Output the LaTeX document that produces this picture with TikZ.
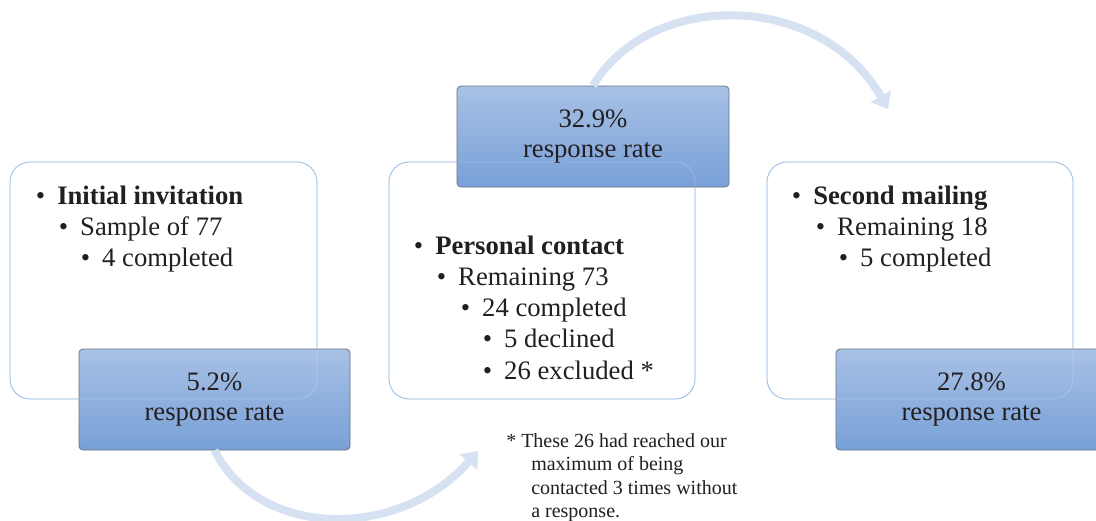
\documentclass[tikz,border=0pt]{standalone}
\usepackage{fontspec}
\setmainfont{Liberation Serif}
\usetikzlibrary{arrows.meta,fit}
\definecolor{panelblue}{RGB}{125,172,225}
\definecolor{ratetop}{RGB}{168,193,230}
\definecolor{ratebot}{RGB}{120,160,215}
\definecolor{rateedge}{RGB}{105,115,130}
\definecolor{inktext}{RGB}{35,31,32}
\definecolor{arrowblue}{RGB}{214,225,242}
\newcommand\bodyfnt{\fontsize{20}{24}\selectfont}
\newcommand\notefnt{\fontsize{15}{17.6}\selectfont}
\newcommand\bul{\llap{\textbullet\hspace{9pt}}}
\tikzset{
  panel/.style={draw=panelblue, line width=0.6pt, rounded corners=15pt, fill=white, inner sep=0pt},
  panelghost/.style={draw=white, opacity=0.22, line width=0.6pt, rounded corners=15pt, inner sep=0pt},
  rate/.style={draw=rateedge, line width=0.6pt, rounded corners=3pt, top color=ratetop, bottom color=ratebot, inner sep=0pt},
  ratetext/.style={align=center, text=inktext, font=\fontsize{20}{22.5}\selectfont, inner sep=0pt},
  item/.style={anchor=base west, inner sep=0pt, text=inktext, font=\bodyfnt},
  note/.style={anchor=base west, inner sep=0pt, text=inktext, font=\notefnt},
  bigarrow/.style={draw=arrowblue, line width=6pt, -{Triangle[width=17pt,length=11pt]}}
}
\begin{document}
\begin{tikzpicture}[x=0.75pt,y=-0.75pt]
\useasboundingbox (0,0) rectangle (1096,521);
\fill[white] (0,0) rectangle (1096,521);

% white panels
\node[panel, fit={(10,162) (317,399)}] (p1) {};
\node[panel, fit={(389,162) (695,399)}] (p2) {};
\node[panel, fit={(767,162) (1073,399)}] (p3) {};

% rate boxes
\node[rate, fit={(79,349) (350,450)}] (r1) {};
\node[rate, fit={(457,86) (729,187)}] (r2) {};
\node[rate, fit={(836,349) (1107,450)}] (r3) {};

% faint panel outlines showing through rate boxes
\node[panelghost, fit={(10,162) (317,399)}] (g1) {};
\node[panelghost, fit={(389,162) (695,399)}] (g2) {};
\node[panelghost, fit={(767,162) (1073,399)}] (g3) {};

% arrows
\coordinate (a1e) at (478,451);
\coordinate (a2e) at (888,109);
\draw[bigarrow] (r1.south) .. controls (260,540) and (400,540) .. (a1e);
\draw[bigarrow] (r2.north) .. controls (650,-10) and (820,-10) .. (a2e);

% rate texts
\node[ratetext] (t1) at (214.5,399) {5.2\%\\response rate};
\node[ratetext] (t2) at (593,136) {32.9\%\\response rate};
\node[ratetext] (t3) at (971.5,399) {27.8\%\\response rate};

% left panel text
\node[item] (l1) at (57,204) {\bul\textbf{Initial invitation}};
\node[item] (l2) at (80,235) {\bul Sample of 77};
\node[item] (l3) at (102,266) {\bul 4 completed};

% middle panel text
\node[item] (m1) at (435,254) {\bul\textbf{Personal contact}};
\node[item] (m2) at (458,285.3) {\bul Remaining 73};
\node[item] (m3) at (482,316.6) {\bul 24 completed};
\node[item] (m4) at (504,347.9) {\bul 5 declined};
\node[item] (m5) at (504,379.2) {\bul 26 excluded *};

% right panel text
\node[item] (s1) at (813,204) {\bul\textbf{Second mailing}};
\node[item] (s2) at (837,235) {\bul Remaining 18};
\node[item] (s3) at (860,266) {\bul 5 completed};

% footnote
\node[note] (f1) at (506,447) {* These 26 had reached our};
\node[note] (f2) at (531,470.5) {maximum of being};
\node[note] (f3) at (531,494) {contacted 3 times without};
\node[note] (f4) at (531,517.5) {a response.};
\end{tikzpicture}
\end{document}
